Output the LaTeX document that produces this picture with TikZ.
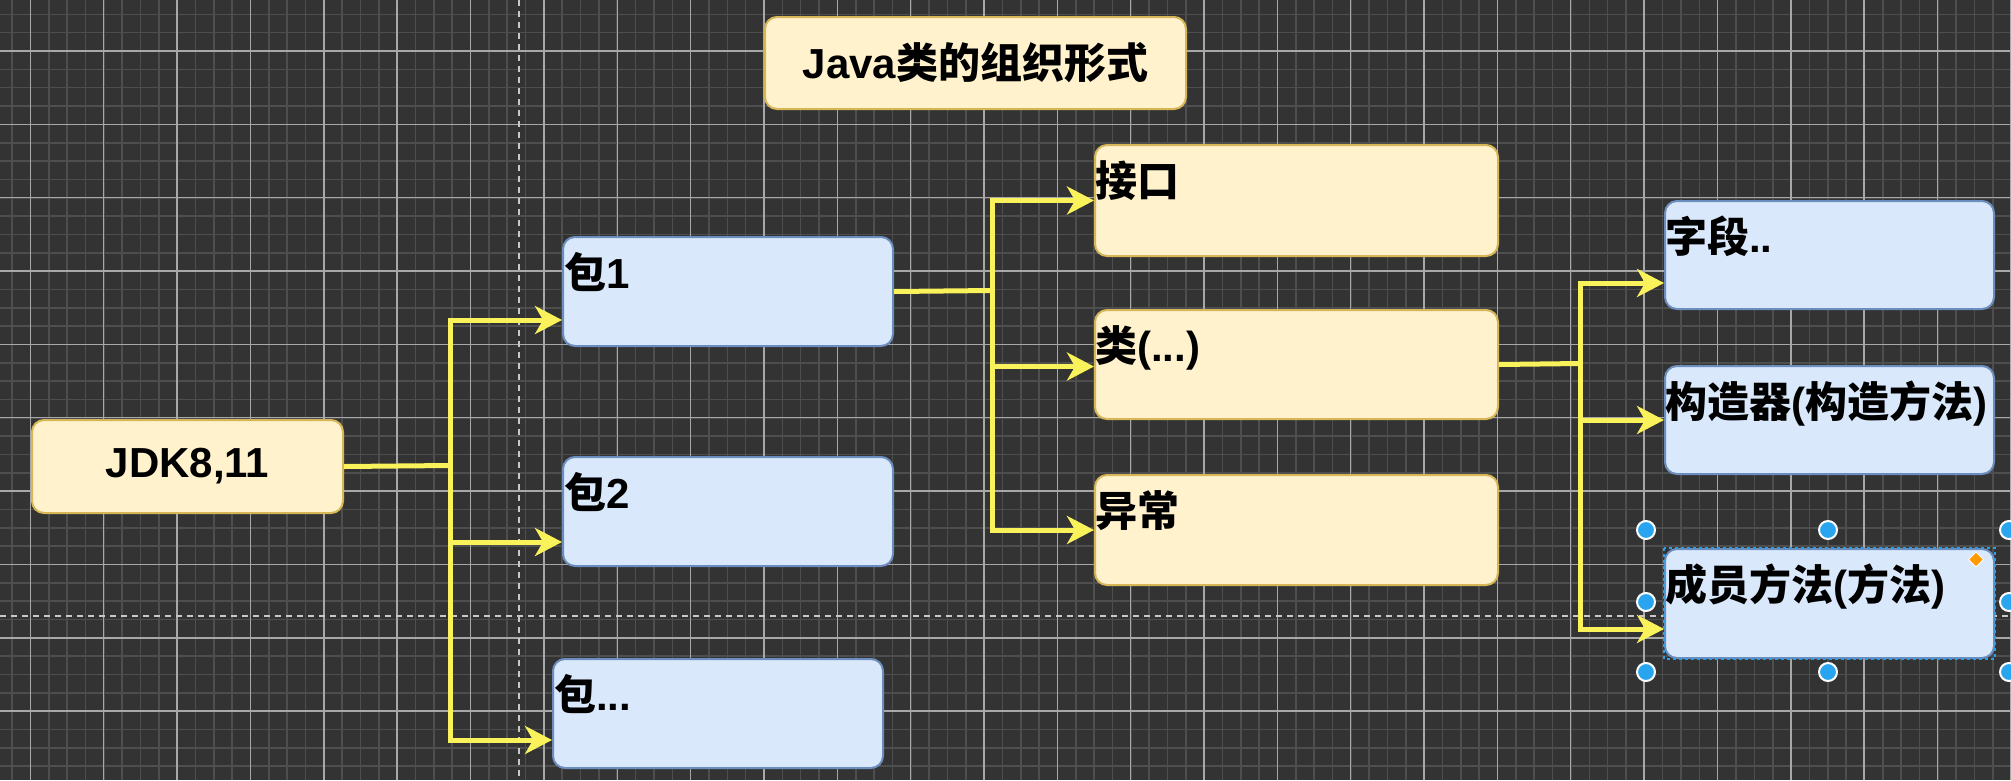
\documentclass[tikz,border=0pt]{standalone}
\usepackage{fontspec}
\setmainfont{Liberation Sans}
\newfontfamily\cjk{Noto Sans CJK SC}
\usetikzlibrary{arrows.meta}
\definecolor{bgc}{HTML}{333333}
\definecolor{minorc}{HTML}{4E4E4E}
\definecolor{majorc}{HTML}{A8A8A8}
\definecolor{guidec}{HTML}{C8C8C8}
\definecolor{yfill}{HTML}{FFF2CC}
\definecolor{ydraw}{HTML}{D6B656}
\definecolor{bfill}{HTML}{DAE8FC}
\definecolor{bdraw}{HTML}{6C8EBF}
\definecolor{conc}{HTML}{F9F25A}
\definecolor{selc}{HTML}{2A9FE8}
\definecolor{handc}{HTML}{29A5F0}
\definecolor{diamc}{HTML}{FF9A00}
\newcommand\zh[1]{{\cjk\bfseries #1}}
\tikzset{
  bigfont/.style={font=\fontsize{42}{48}\selectfont\bfseries},
  ybox/.style={rectangle, rounded corners=12pt, fill=yfill, draw=ydraw, line width=2pt, anchor=north west, inner sep=0pt, bigfont},
  bbox/.style={rectangle, rounded corners=12pt, fill=bfill, draw=bdraw, line width=2pt, anchor=north west, inner sep=0pt, bigfont},
  lbl/.style={inner sep=0pt, anchor=base west, text=black, bigfont},
  conn/.style={draw=conc, line width=5pt, -{Stealth[length=27pt, width=28pt, inset=8pt]}},
  connline/.style={draw=conc, line width=5pt},
  minorline/.style={draw=minorc, line width=1.6pt},
  majorline/.style={draw=majorc, line width=1.4pt},
  guide/.style={draw=guidec, line width=1.5pt, dash pattern=on 6pt off 5pt},
  handle/.style={fill=handc, draw=white, line width=2pt},
  seldash/.style={draw=selc, line width=1.5pt, dash pattern=on 3pt off 3pt}
}
\begin{document}
\begin{tikzpicture}[x=1pt,y=-1pt]
\useasboundingbox (0,0) rectangle (2011,780);
% background and grid
\fill[bgc] (0,0) rectangle (2011,780);
\foreach \i in {0,...,110} \draw[minorline] ({12.06+\i*18.34},0) -- ({12.06+\i*18.34},780);
\foreach \j in {0,...,43} \draw[minorline] (0,{14.32+\j*18.34}) -- (2011,{14.32+\j*18.34});
\foreach \i in {0,...,27} \draw[majorline] ({30.4+\i*73.35},0) -- ({30.4+\i*73.35},780);
\foreach \j in {0,...,10} \draw[majorline] (0,{51+\j*73.35}) -- (2011,{51+\j*73.35});
\draw[guide] (519,0) -- (519,780);
\draw[guide] (0,616) -- (2011,616);

% title
\node[ybox, minimum width=421pt, minimum height=92pt] (title) at (764,16) {Java\zh{类的组织形式}};
% root
\node[ybox, minimum width=311pt, minimum height=93pt] (jdk) at (31,419) {JDK8,11};
% packages
\node[bbox, minimum width=330pt, minimum height=109pt] (p1) at (562,236) {};
\node[bbox, minimum width=330pt, minimum height=109pt] (p2) at (562,456) {};
\node[bbox, minimum width=330pt, minimum height=109pt] (p3) at (552,658) {};
\node[lbl] (tp1) at ([xshift=2pt,yshift=-52pt]p1.north west) {\zh{包}1};
\node[lbl] (tp2) at ([xshift=2pt,yshift=-52pt]p2.north west) {\zh{包}2};
\node[lbl] (tp3) at ([xshift=2pt,yshift=-52pt]p3.north west) {\zh{包}...};
% types
\node[ybox, minimum width=403pt, minimum height=111pt] (jk) at (1094,144) {};
\node[ybox, minimum width=403pt, minimum height=109pt] (lei) at (1094,309) {};
\node[ybox, minimum width=403pt, minimum height=110pt] (yc) at (1094,474) {};
\node[lbl] (tjk) at ([xshift=1pt,yshift=-52pt]jk.north west) {\zh{接口}};
\node[lbl] (tlei) at ([xshift=1pt,yshift=-52pt]lei.north west) {\zh{类}(...)};
\node[lbl] (tyc) at ([xshift=1pt,yshift=-52pt]yc.north west) {\zh{异常}};
% members
\node[bbox, minimum width=329pt, minimum height=108pt] (zd) at (1664,200) {};
\node[bbox, minimum width=329pt, minimum height=108pt] (gz) at (1664,365) {};
\node[bbox, minimum width=329pt, minimum height=109pt] (cy) at (1664,548) {};
\node[lbl] (tzd) at ([xshift=1pt,yshift=-52pt]zd.north west) {\zh{字段}..};
\node[lbl] (tgz) at ([xshift=1pt,yshift=-52pt]gz.north west) {\zh{构造器}(\zh{构造方法})};
\node[lbl] (tcy) at ([xshift=1pt,yshift=-52pt]cy.north west) {\zh{成员方法}(\zh{方法})};

% connectors
\coordinate (s1) at (450,465.5);
\draw[connline] (jdk.east) -- (s1);
\draw[conn] (s1) |- ([yshift=-28.5pt]p1.west);
\draw[conn] (s1) |- ([yshift=-30.5pt]p2.west);
\draw[conn] (s1) |- ([yshift=-26.5pt]p3.west);

\coordinate (s2) at (992,290.5);
\draw[connline] (p1.east) -- (s2);
\draw[conn] (s2) |- (jk.west);
\draw[conn] (s2) |- ([yshift=-2pt]lei.west);
\draw[conn] (s2) |- (yc.west);

\coordinate (s3) at (1580,363.5);
\draw[connline] (lei.east) -- (s3);
\draw[conn] (s3) |- ([yshift=-28pt]zd.west);
\draw[conn] (s3) |- (gz.west);
\draw[conn] (s3) |- ([yshift=-25.5pt]cy.west);

% selection marks
\draw[seldash] (cy.north west) rectangle (cy.south east);
\foreach \p in {(1646,530),(1828,530),(2009,530),(1646,602),(2009,602),(1646,672),(1828,672),(2009,672)}
  \draw[handle] \p circle (9pt);
\draw[fill=diamc, draw=white, line width=1pt] (1976,552) -- (1983.5,559.5) -- (1976,567) -- (1968.5,559.5) -- cycle;
\end{tikzpicture}
\end{document}
